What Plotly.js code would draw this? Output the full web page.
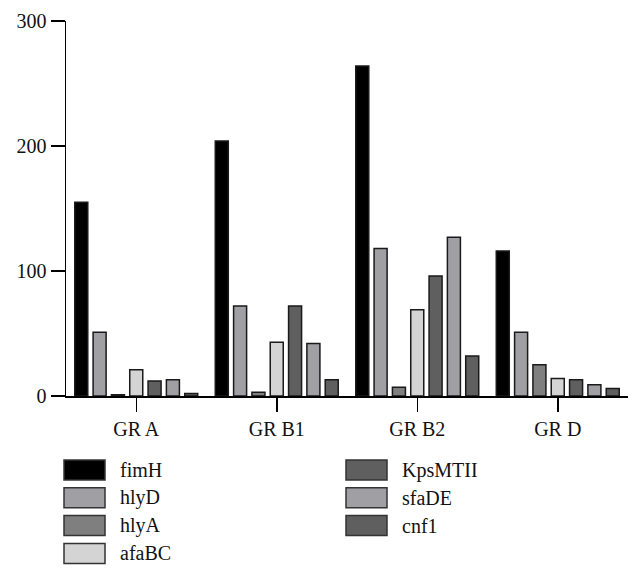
<!DOCTYPE html>
<html>
<head>
<meta charset="utf-8">
<script src="https://cdn.plot.ly/plotly-3.0.1.min.js"></script>
<style>
html,body{margin:0;padding:0;background:#fff;}
#chart{width:643px;height:578px;}
</style>
</head>
<body>
<div id="chart"></div>
<script>
// ---- data ----
const groups = ["GR A", "GR B1", "GR B2", "GR D"];
const genes = ["fimH", "hlyD", "hlyA", "afaBC", "KpsMTII", "sfaDE", "cnf1"];
const fimH    = [155, 204, 264, 116];
const hlyD    = [51, 72, 118, 51];
const hlyA    = [1, 3, 7, 25];
const afaBC   = [21, 43, 69, 14];
const KpsMTII = [12, 72, 96, 13];
const sfaDE   = [13, 42, 127, 9];
const cnf1    = [2, 13, 32, 6];
const yTicks  = [0, 100, 200, 300];

// ---- styles ----
const seriesValues = [fimH, hlyD, hlyA, afaBC, KpsMTII, sfaDE, cnf1];
const colors = ["#000000", "#a0a0a4", "#7f7f7f", "#d4d4d4", "#5f5f5f", "#a0a0a4", "#5f5f5f"];
const outline = "#1a1a1a";
const FONT = "Liberation Serif, Times New Roman, serif";

const W = 643, H = 578;
const M = {l: 66, r: 15, t: 21, b: 182};
const plotW = W - M.l - M.r, plotH = H - M.t - M.b;
const px2x = px => (px - M.l) / plotW;
const py2y = py => (H - M.b - py) / plotH;

const traces = genes.map((g, i) => ({
  type: "bar",
  name: g,
  x: groups,
  y: seriesValues[i],
  marker: {color: colors[i], line: {color: outline, width: 1.5}},
  showlegend: false,
  hoverinfo: "x+y+name"
}));

// custom legend: two columns (4 + 3 items)
const shapes = [], annotations = [];
const colX = [64, 346];       // swatch left edges (px)
const rowTop = 460, rowPitch = 27.8, swW = 41, swH = 20;
genes.forEach((g, i) => {
  const col = i < 4 ? 0 : 1;
  const row = i < 4 ? i : i - 4;
  const x0 = colX[col], y0 = rowTop + row * rowPitch;
  shapes.push({
    type: "rect", xref: "paper", yref: "paper",
    x0: px2x(x0), x1: px2x(x0 + swW),
    y0: py2y(y0 + swH), y1: py2y(y0),
    fillcolor: colors[i], line: {color: "#333333", width: 1.5}
  });
  annotations.push({
    xref: "paper", yref: "paper",
    x: px2x(x0 + swW + 13), y: py2y(y0 + swH / 2),
    xanchor: "left", yanchor: "middle",
    text: g, showarrow: false,
    font: {family: FONT, size: 20, color: "#111"}
  });
});

const layout = {
  width: W, height: H,
  margin: M,
  paper_bgcolor: "#fff", plot_bgcolor: "#fff",
  barmode: "group",
  bargap: 0.087,
  bargroupgap: 0.29,
  font: {family: FONT, size: 20, color: "#111"},
  xaxis: {
    type: "category",
    range: [-0.5, 3.5],
    showline: true, linecolor: "#000", linewidth: 1.5,
    ticks: "outside", ticklen: 14, tickwidth: 1.5, tickcolor: "#000",
    showgrid: false, zeroline: false,
    tickfont: {family: FONT, size: 20, color: "#111"},
    fixedrange: true
  },
  yaxis: {
    range: [0, 300],
    tickvals: yTicks,
    ticktext: yTicks.map(String),
    showline: true, linecolor: "#000", linewidth: 1.5,
    ticks: "outside", ticklen: 14, tickwidth: 1.5, tickcolor: "#000",
    showgrid: false, zeroline: false,
    tickfont: {family: FONT, size: 20, color: "#111"},
    fixedrange: true
  },
  shapes: shapes,
  annotations: annotations,
  showlegend: false
};

Plotly.newPlot("chart", traces, layout, {displayModeBar: false, staticPlot: true});
</script>
</body>
</html>
